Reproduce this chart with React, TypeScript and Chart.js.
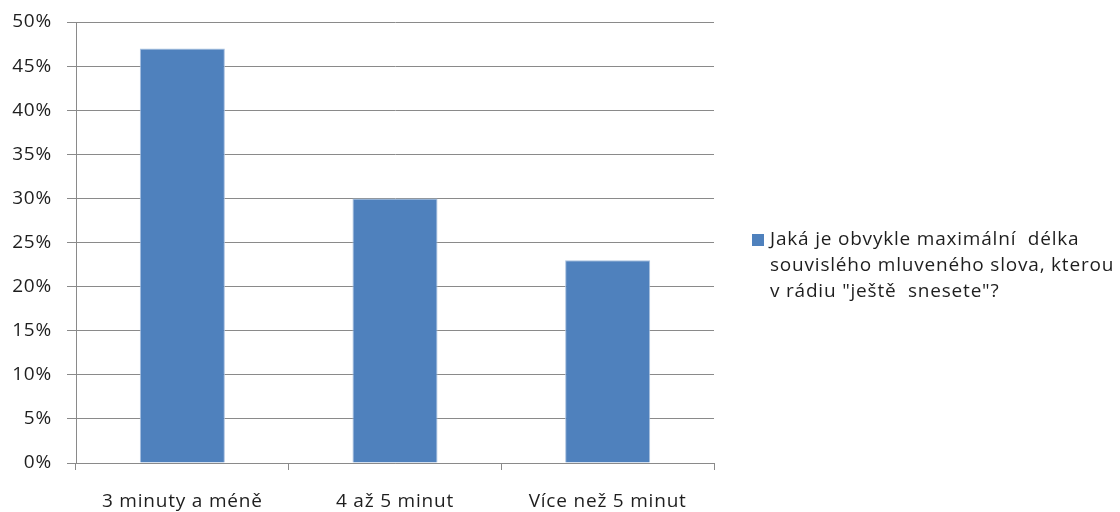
import { useEffect, useRef } from "react";
import { Chart, registerables } from "chart.js";

Chart.register(...registerables);

// Answer categories and their shares (%)
const categories = ["3 minuty a méně", "4 až 5 minut", "Více než 5 minut"];
const shares = [47, 30, 23];
const yMax = 50;
const yStep = 5;
const legendLines = [
  "Jaká je obvykle maximální  délka",
  "souvislého mluveného slova, kterou",
  'v rádiu "ještě  snesete"?',
];

const FONT = "'Open Sans'";
const FONT_SIZE = 19;
const SPACING = "0.8px";
const TEXT = "#1e1e1e";
const GRID = "#8a8a8a";
const BAR = "#4F81BD";

// Slightly looser tracking for all canvas text
const tracking = {
  id: "tracking",
  beforeUpdate(chart: Chart) {
    (chart.ctx as any).letterSpacing = SPACING;
  },
  beforeDraw(chart: Chart) {
    (chart.ctx as any).letterSpacing = SPACING;
  },
};

// Legend drawn to the right of the plot area
const sideLegend = {
  id: "sideLegend",
  afterDraw(chart: Chart) {
    const { ctx, chartArea } = chart;
    const x0 = chartArea.right + 38;
    const y0 = chartArea.top + 218;
    const lh = 26;
    ctx.save();
    ctx.fillStyle = BAR;
    ctx.fillRect(x0, y0 - 6, 12, 12);
    ctx.fillStyle = TEXT;
    ctx.font = `${FONT_SIZE}px ${FONT}`;
    ctx.textAlign = "left";
    ctx.textBaseline = "middle";
    legendLines.forEach((line, i) => {
      ctx.fillText(line, x0 + 18, y0 + i * lh);
    });
    ctx.restore();
  },
};

export default function App() {
  const canvasRef = useRef<HTMLCanvasElement>(null);

  useEffect(() => {
    const canvas = canvasRef.current;
    if (!canvas) return;
    const chart = new Chart(canvas, {
      type: "bar",
      data: {
        labels: categories,
        datasets: [
          {
            label: legendLines.join(" "),
            data: shares,
            backgroundColor: BAR,
            borderColor: "#A9C1DF",
            borderWidth: 1,
            barPercentage: 0.4,
            categoryPercentage: 1,
          },
        ],
      },
      options: {
        responsive: false,
        animation: false,
        layout: { padding: { top: 22, right: 406, bottom: 0, left: 0 } },
        plugins: {
          legend: { display: false },
          tooltip: { enabled: false },
        },
        scales: {
          x: {
            offset: true,
            grid: {
              offset: true,
              drawOnChartArea: false,
              drawTicks: true,
              tickLength: 7,
              color: GRID,
            },
            border: { color: GRID },
            ticks: {
              color: TEXT,
              font: { family: FONT, size: FONT_SIZE },
              padding: 20,
              maxRotation: 0,
            },
            afterFit: (scale: any) => {
              scale.height = 49;
              scale.paddingLeft = 0;
              scale.paddingRight = 0;
            },
          },
          y: {
            min: 0,
            max: yMax,
            grid: { color: GRID, tickLength: 9 },
            border: { color: GRID },
            ticks: {
              stepSize: yStep,
              color: TEXT,
              font: { family: FONT, size: FONT_SIZE },
              padding: 15,
              callback: (v: any) => `${v}%`,
            },
            afterFit: (scale: any) => {
              scale.width = 76;
              scale.paddingTop = 0;
              scale.paddingBottom = 0;
            },
          },
        },
      },
      plugins: [tracking, sideLegend],
    });
    return () => chart.destroy();
  }, []);

  return (
    <canvas
      ref={canvasRef}
      width={1120}
      height={512}
      style={{ position: "absolute", left: 0, top: 0 }}
    />
  );
}
